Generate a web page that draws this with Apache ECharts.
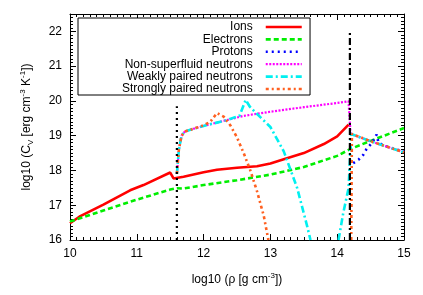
<!DOCTYPE html>
<html>
<head>
<meta charset="utf-8">
<script src="https://cdn.jsdelivr.net/npm/echarts@6/dist/echarts.min.js"></script>
<style>html,body{margin:0;padding:0;background:#fff}#c{width:423px;height:295px}</style>
</head>
<body>
<div id="c"></div>
<script>
const seriesNames = ['Ions','Electrons','Protons','Non-superfluid neutrons','Weakly paired neutrons','Strongly paired neutrons'];
const ions = [[10,16.48],[10.14,16.67],[10.5,17.02],[10.9,17.43],[11.1,17.58],[11.5,17.94],[11.55,17.77],[11.7,17.82],[12.0,17.95],[12.2,18.02],[12.5,18.08],[12.8,18.12],[13.0,18.2],[13.2,18.32],[13.5,18.5],[13.8,18.76],[14.0,18.98],[14.17,19.32]];
const electrons = [[10,16.53],[10.5,16.85],[11,17.16],[11.5,17.45],[11.6,17.49],[11.7,17.48],[12,17.58],[12.5,17.72],[13,17.88],[13.5,18.1],[14,18.42],[14.2,18.62],[14.5,18.85],[15,19.22]];
const protons = [[14.24,18.21],[14.32,18.31],[14.39,18.45],[14.44,18.62],[14.52,18.79],[14.59,19.03],[14.62,18.79],[14.74,18.69],[14.89,18.6],[15,18.55]];
const nonSuperfluid = [[11.6,17.9],[11.63,18.6],[11.67,19.0],[11.72,19.12],[11.85,19.2],[12.0,19.28],[12.35,19.45],[12.6,19.57],[13.0,19.69],[13.5,19.82],[14.0,19.94],[14.17,19.99],[14.2,19.05],[14.5,18.84],[15,18.52]];
const weakPaired = [[11.6,17.9],[11.63,18.6],[11.67,19.0],[11.72,19.12],[11.85,19.2],[12.0,19.28],[12.35,19.45],[12.54,19.58],[12.63,20.03],[12.69,19.84],[12.75,19.72],[13.0,19.25],[13.2,18.55],[13.4,17.5],[13.55,16.4],[13.6,16.0],[13.8,'-'],[14.02,16.0],[14.09,16.77],[14.17,17.49],[14.21,19.05],[14.5,18.84],[15,18.52]];
const strongPaired = [[11.6,17.9],[11.63,18.6],[11.67,19.0],[11.72,19.12],[11.85,19.2],[12.0,19.3],[12.1,19.4],[12.2,19.65],[12.3,19.55],[12.4,19.3],[12.5,18.95],[12.6,18.5],[12.7,18.0],[12.8,17.4],[12.9,16.7],[12.97,16.0],[13.5,'-'],[14.21,16.0],[14.22,19.05],[14.5,18.84],[15,18.52]];
const dripLine = [[11.6,16],[11.6,19.85]];
const coreLine = [[14.19,16],[14.19,22]];
const xTicks = [10,11,12,13,14,15];
const yTicks = [16,17,18,19,20,21,22];

const FONT = 'Liberation Sans';
const chart = echarts.init(document.getElementById('c'), null, {renderer:'canvas'});
const colors = ['#ff0000','#00ee00','#0000ff','#ff00ff','#00f0f0','#ff6020'];
const dashes = ['solid',[5,3],[2,4],[2,1.5],[7,3,2,3],[3,3,2,3]];
const widths = [2.6,2.6,2.6,2.2,2.6,2.6];
const datasets = [ions,electrons,protons,nonSuperfluid,weakPaired,strongPaired];

const series = datasets.map((d,i)=>({
  name: seriesNames[i], type:'line', data:d, symbol:'none', showSymbol:false,
  xAxisIndex:0, yAxisIndex:0, clip:true, animation:false, connectNulls:false,
  lineStyle:{color:colors[i], width:widths[i], type:dashes[i], cap:'butt'},
  itemStyle:{color:colors[i]}
}));
series.push({name:'drip',type:'line',data:dripLine,symbol:'none',xAxisIndex:0,yAxisIndex:0,animation:false,
  lineStyle:{color:'#000',width:2.2,type:[2,4]}});
series.push({name:'core',type:'line',data:coreLine,symbol:'none',xAxisIndex:0,yAxisIndex:0,animation:false,
  lineStyle:{color:'#000',width:2.2,type:[7,3,2,3]}});

const tickCommon = {show:true, inside:true, lineStyle:{color:'#000',width:1}};
const lineCommon = {show:true, onZero:false, lineStyle:{color:'#000',width:1}};

chart.setOption({
  animation:false,
  textStyle:{fontFamily:FONT},
  grid:{left:70,right:19,top:14,bottom:55,containLabel:false,outerBoundsMode:'none'},
  legend:{
    data:seriesNames, orient:'vertical', align:'right', left:78, top:18,
    itemWidth:36, itemHeight:12, itemGap:0.4, selectedMode:false,
    padding:[3,7,0,44], borderColor:'#000', borderWidth:1, backgroundColor:'#fff',
    textStyle:{fontFamily:FONT, fontSize:12, color:'#000', padding:[0,8,0,0]},
    lineStyle:{width:'inherit'}, itemStyle:{opacity:0}
  },
  xAxis:[
    {type:'value',min:xTicks[0],max:xTicks[xTicks.length-1],interval:1,position:'bottom',
     axisLine:lineCommon, axisTick:Object.assign({length:6},tickCommon),
     minorTick:{show:true,splitNumber:10,length:3,lineStyle:{color:'#000',width:1}},
     splitLine:{show:false}, minorSplitLine:{show:false},
     axisLabel:{color:'#000',fontSize:12,fontFamily:FONT,margin:8},
     name:'{n|log10 (ρ [g cm}{sup|-3}{n|])}', nameLocation:'middle', nameGap:32,
     nameTextStyle:{color:'#000',fontFamily:FONT,fontSize:12,rich:{
       n:{fontSize:12,fontFamily:FONT,color:'#000',lineHeight:16},
       sup:{fontSize:8,fontFamily:FONT,color:'#000',lineHeight:8,verticalAlign:'top'}}}},
    {type:'value',min:xTicks[0],max:xTicks[xTicks.length-1],interval:1,position:'top',
     axisLine:lineCommon, axisTick:Object.assign({length:6},tickCommon),
     minorTick:{show:true,splitNumber:10,length:3,lineStyle:{color:'#000',width:1}},
     splitLine:{show:false}, axisLabel:{show:false}}
  ],
  yAxis:[
    {type:'value',min:yTicks[0],max:22.5,interval:1,position:'left',
     axisLine:lineCommon, axisTick:Object.assign({length:6},tickCommon),
     splitLine:{show:false},
     axisLabel:{color:'#000',fontSize:12,fontFamily:FONT,margin:8,showMaxLabel:false,
       formatter:v=> (Number.isInteger(v)? String(v):'')},
     name:'{n|log10 (C}{sub|V}{n| [erg cm}{sup|-3}{n| K}{sup|-1}{n|])}', nameLocation:'middle', nameGap:35, nameRotate:90,
     nameTextStyle:{color:'#000',fontFamily:FONT,fontSize:12,rich:{
       n:{fontSize:12,fontFamily:FONT,color:'#000',lineHeight:16},
       sub:{fontSize:8,fontFamily:FONT,color:'#000',lineHeight:8,verticalAlign:'bottom'},
       sup:{fontSize:8,fontFamily:FONT,color:'#000',lineHeight:8,verticalAlign:'top'}}}},
    {type:'value',min:yTicks[0],max:22.5,interval:1,position:'right',
     axisLine:lineCommon, axisTick:Object.assign({length:6},tickCommon),
     splitLine:{show:false}, axisLabel:{show:false}},
    {type:'value',min:yTicks[0],max:22.5,interval:0.1,position:'left',
     axisLine:{show:false}, axisTick:Object.assign({length:3},tickCommon),
     splitLine:{show:false}, axisLabel:{show:false}},
    {type:'value',min:yTicks[0],max:22.5,interval:0.1,position:'right',
     axisLine:{show:false}, axisTick:Object.assign({length:3},tickCommon),
     splitLine:{show:false}, axisLabel:{show:false}}
  ],
  series:series
});
</script>
</body>
</html>
